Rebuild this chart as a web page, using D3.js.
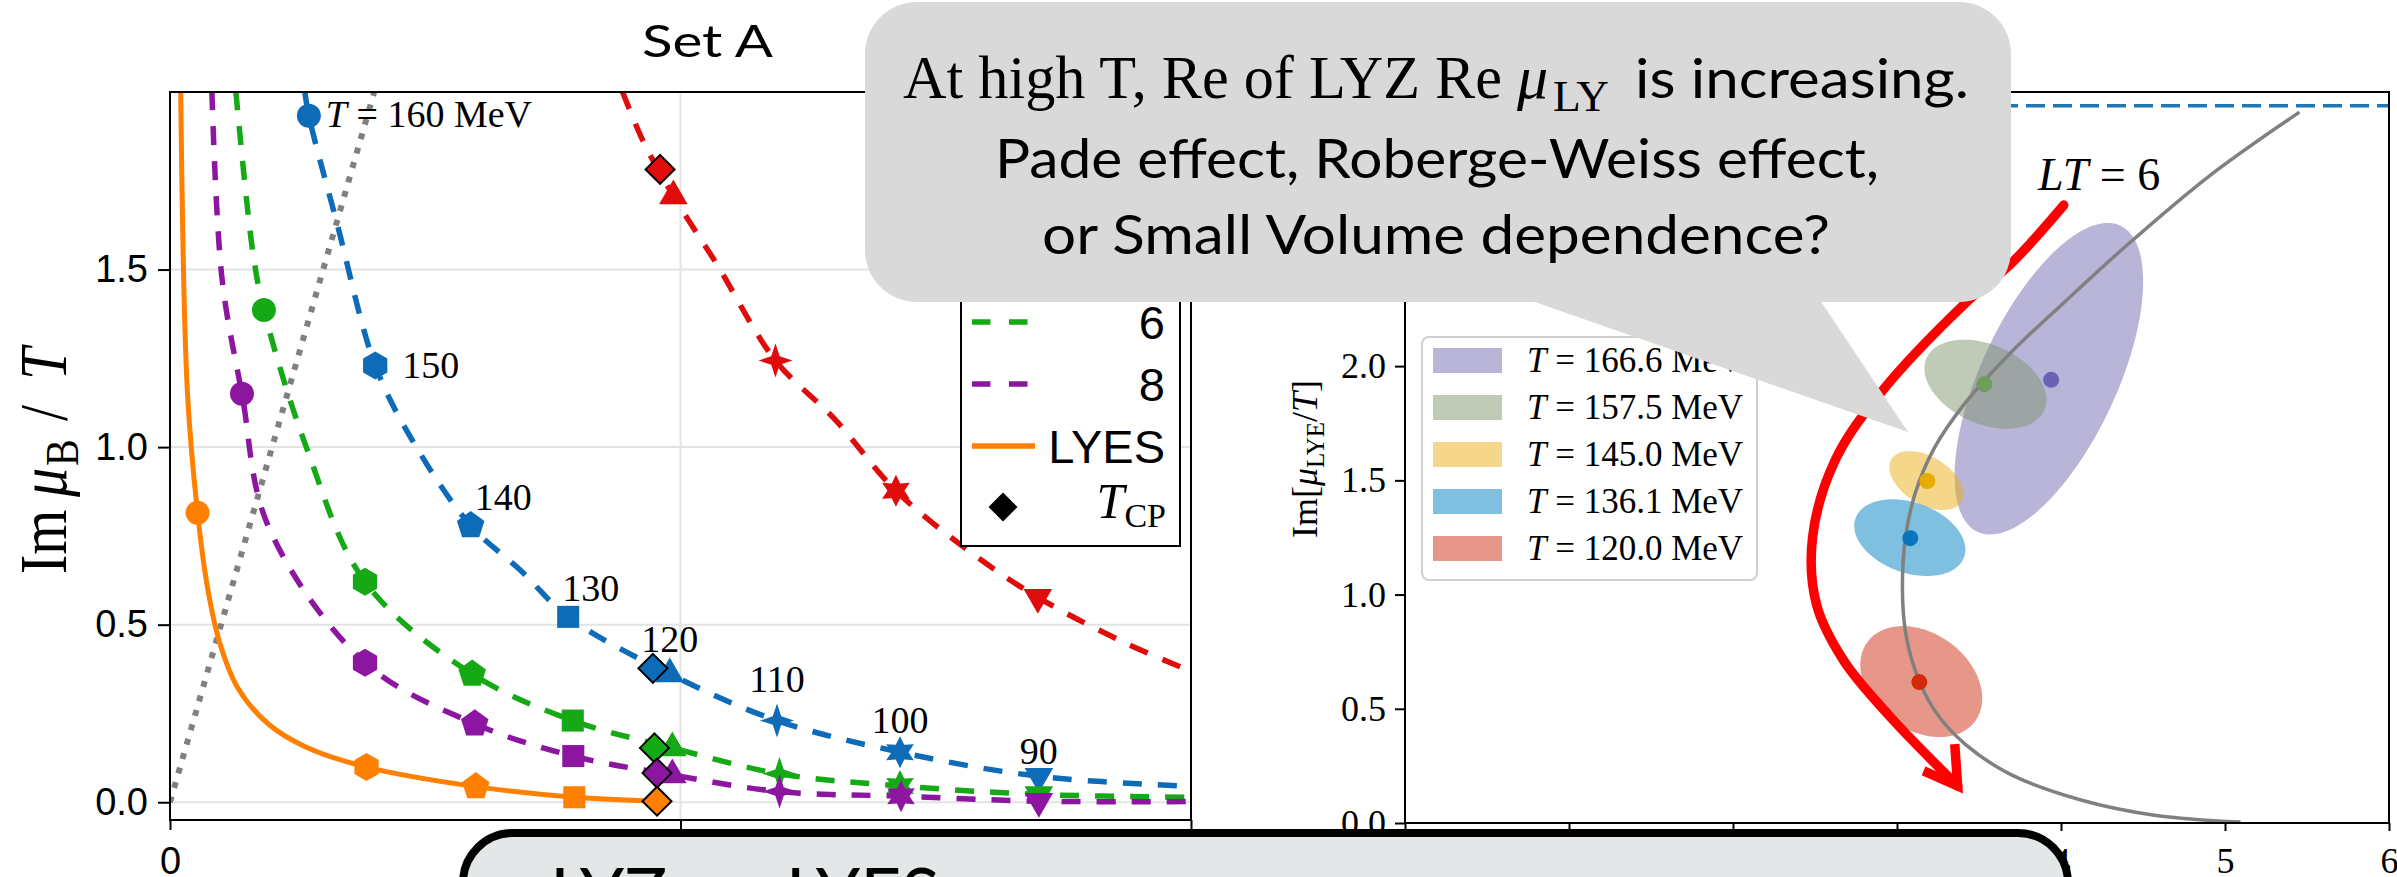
<!DOCTYPE html>
<html>
<head>
<meta charset="utf-8">
<script src="https://cdn.jsdelivr.net/npm/d3@7"></script>
<style>
  body { margin: 0; background: #fff; }
  svg { display: block; }
</style>
</head>
<body>
<svg id="slide" width="2397" height="877"></svg>
<script>
// ---------- left panel (Set A): zeros in the complex mu_B/T plane ----------
var temps = [160, 150, 140, 130, 120, 110, 100, 90];

// marker points [T, Re, Im]
var redPts = [[120, 0.986, 1.707], [110, 1.186, 1.244], [100, 1.422, 0.877], [90, 1.700, 0.577]];
var bluePts = [[160, 0.272, 1.933], [150, 0.402, 1.230], [140, 0.589, 0.779], [130, 0.780, 0.522],
               [120, 0.979, 0.361], [110, 1.189, 0.230], [100, 1.430, 0.141], [90, 1.702, 0.073]];
var greenPts = [[160, 0.184, 1.386], [150, 0.382, 0.621], [140, 0.592, 0.361], [130, 0.789, 0.230],
                [120, 0.984, 0.153], [110, 1.194, 0.080], [100, 1.430, 0.046], [90, 1.702, 0.022]];
var purplePts = [[160, 0.141, 1.150], [150, 0.382, 0.393], [140, 0.597, 0.221], [130, 0.790, 0.130],
                 [120, 0.984, 0.077], [110, 1.194, 0.030], [100, 1.432, 0.017], [90, 1.702, 0.003]];
var lyesPts = [[160, 0.054, 0.815], [150, 0.385, 0.099], [140, 0.599, 0.044], [130, 0.792, 0.014]];

// curves traced through the figure
var redLine = [[0.886, 2.002], [0.928, 1.858], [0.986, 1.707], [1.069, 1.520], [1.186, 1.244], [1.302, 1.079],
               [1.422, 0.877], [1.572, 0.700], [1.700, 0.577], [1.872, 0.448], [2.0, 0.369]];
var blueLine = [[0.264, 2.002], [0.272, 1.933], [0.327, 1.631], [0.402, 1.230], [0.476, 1.016], [0.589, 0.779],
                [0.686, 0.654], [0.780, 0.522], [0.979, 0.361], [1.189, 0.230], [1.430, 0.141], [1.702, 0.073], [2.0, 0.045]];
var greenLine = [[0.129, 2.002], [0.162, 1.552], [0.184, 1.386], [0.267, 1.000], [0.382, 0.621], [0.592, 0.361],
                 [0.789, 0.230], [0.984, 0.153], [1.194, 0.080], [1.430, 0.046], [1.702, 0.022], [2.0, 0.014]];
var purpleLine = [[0.082, 2.002], [0.102, 1.473], [0.141, 1.150], [0.192, 0.779], [0.382, 0.393], [0.597, 0.221],
                  [0.790, 0.130], [0.984, 0.077], [1.194, 0.030], [1.432, 0.017], [1.702, 0.003], [2.0, 0.002]];
var lyesLine = [[0.021, 2.002], [0.034, 1.158], [0.054, 0.815], [0.074, 0.600], [0.098, 0.446], [0.132, 0.324],
                [0.192, 0.221], [0.267, 0.155], [0.385, 0.099], [0.599, 0.044], [0.792, 0.014], [0.954, 0.003]];
var boundLine = [[0, 0], [0.41, 2.05]];

// critical points T_CP per series (red, blue, green, purple, LYES)
var cpRe = [0.960, 0.946, 0.949, 0.954, 0.954];
var cpIm = [1.782, 0.377, 0.153, 0.082, 0.003];

var leftYTicks = [0, 0.5, 1.0, 1.5];
var leftXTicks = [0, 1, 2];

// ---------- right panel: LYE fits ----------
var lyeTemps = ['166.6', '157.5', '145.0', '136.1', '120.0'];
var lyeRe = [3.94, 3.533, 3.185, 3.081, 3.136];
var lyeIm = [1.94, 1.921, 1.497, 1.247, 0.617];
var ellRe = [3.926, 3.539, 3.179, 3.078, 3.148];
var ellIm = [1.945, 1.921, 1.499, 1.249, 0.619];
var ellSigRe = [0.575, 0.372, 0.226, 0.339, 0.372];
var ellSigIm = [0.682, 0.195, 0.129, 0.168, 0.243];
var ellRho = [0.624, -0.35, -0.45, -0.31, -0.30];

var lt6Re = [5.454, 4.900, 4.395, 4.021, 3.695, 3.415, 3.229, 3.113, 3.052, 3.033, 3.052, 3.113, 3.229,
             3.415, 3.695, 4.116, 4.581, 5.095];
var lt6Im = [3.112, 2.830, 2.525, 2.280, 2.060, 1.838, 1.643, 1.448, 1.252, 1.032, 0.836, 0.665, 0.493,
             0.345, 0.212, 0.102, 0.033, 0.004];
var rwLevel = 3.14;

var arrowRe = [4.017, 3.700, 3.419, 2.906, 2.625, 2.485, 2.509, 2.674, 2.955, 3.370];
var arrowIm = [2.705, 2.452, 2.277, 1.888, 1.591, 1.250, 0.957, 0.712, 0.468, 0.162];
var arrowHeadRe = [3.162, 3.370, 3.352];
var arrowHeadIm = [0.228, 0.162, 0.345];

var rightYTicks = [0, 0.5, 1.0, 1.5, 2.0, 2.5, 3.0];
var rightXTicks = [0, 1, 2, 3, 4, 5, 6];

// ---------- styles ----------
var seriesColor = ['#e00b0b', '#0e6bb8', '#16a916', '#8c16a0', '#ff7f00'];
var lyeFill = ['#716bb1', '#7f956f', '#e9af15', '#007fbf', '#cf2d15'];
var lyeDot = ['#6a62b2', '#6f9e5b', '#e8ab00', '#0a74bc', '#d42a0c'];
var markerKinds = ['circle', 'hex', 'pent', 'square', 'triUp', 'star4', 'star6', 'triDown'];
var serif = '"Liberation Serif", "DejaVu Serif", serif';
var sans = '"Liberation Sans", Arial, sans-serif';
var slideFont = 'Lato, "Open Sans", sans-serif';

var svg = d3.select('#slide');

function polyPath(n, r, rot) {
  var pts = d3.range(n).map(function(i) {
    var a = rot + i * 2 * Math.PI / n;
    return [r * Math.cos(a), r * Math.sin(a)];
  });
  return 'M' + pts.join('L') + 'Z';
}
function starPath(n, ro, ri, rot) {
  var pts = d3.range(2 * n).map(function(i) {
    var a = rot + i * Math.PI / n, r = i % 2 ? ri : ro;
    return [r * Math.cos(a), r * Math.sin(a)];
  });
  return 'M' + pts.join('L') + 'Z';
}
var up = -Math.PI / 2;
var markerPath = {
  circle: 'M12,0A12,12 0 1 1 -12,0A12,12 0 1 1 12,0Z',
  hex: polyPath(6, 14, up),
  pent: polyPath(5, 14.5, up),
  square: polyPath(4, 15.6, Math.PI / 4),
  triUp: polyPath(3, 16.5, up),
  star4: starPath(4, 17, 6, up),
  star6: starPath(6, 16, 8.5, up),
  triDown: polyPath(3, 16.5, Math.PI / 2),
  diamond: polyPath(4, 14.5, up)
};

function styleAxis(g, family, size) {
  g.select('.domain').remove();
  g.selectAll('.tick line').attr('stroke', '#000').attr('stroke-width', 2);
  g.selectAll('.tick text').attr('font-family', family).attr('font-size', size).attr('fill', '#000');
}

// ================= left panel =================
var xL = d3.scaleLinear().domain([0, 2]).range([170, 1191]);
var yL = d3.scaleLinear().domain([-0.05, 2.0]).range([820, 92]);

var left = svg.append('g');
left.append('clipPath').attr('id', 'clipL').append('rect')
  .attr('x', 170).attr('y', 92).attr('width', 1021).attr('height', 728);

left.append('g').selectAll('line').data(leftYTicks).enter().append('line')
  .attr('x1', 170).attr('x2', 1191)
  .attr('y1', function(d) { return yL(d); }).attr('y2', function(d) { return yL(d); })
  .attr('stroke', '#e3e3e3').attr('stroke-width', 2);
left.append('line').attr('x1', xL(1)).attr('x2', xL(1)).attr('y1', 92).attr('y2', 820)
  .attr('stroke', '#e3e3e3').attr('stroke-width', 2);

var plotL = left.append('g').attr('clip-path', 'url(#clipL)');
var lineL = d3.line().x(function(d) { return xL(d[0]); }).y(function(d) { return yL(d[1]); })
  .curve(d3.curveCatmullRom.alpha(0.5));

plotL.append('path').datum(boundLine)
  .attr('d', d3.line().x(function(d) { return xL(d[0]); }).y(function(d) { return yL(d[1]); }))
  .attr('fill', 'none').attr('stroke', '#808080').attr('stroke-width', 6).attr('stroke-dasharray', '6,9');

var seriesPts = [redPts, bluePts, greenPts, purplePts, lyesPts];
var seriesLines = [redLine, blueLine, greenLine, purpleLine, lyesLine];

seriesLines.forEach(function(ln, s) {
  plotL.append('path').datum(ln).attr('d', lineL)
    .attr('fill', 'none').attr('stroke', seriesColor[s])
    .attr('stroke-width', s === 4 ? 5 : 5.5)
    .attr('stroke-dasharray', s === 4 ? null : '19,16');
  plotL.append('g').selectAll('path').data(seriesPts[s]).enter().append('path')
    .attr('d', function(d) { return markerPath[markerKinds[temps.indexOf(d[0])]]; })
    .attr('transform', function(d) { return 'translate(' + xL(d[1]) + ',' + yL(d[2]) + ')'; })
    .attr('fill', seriesColor[s]);
});

plotL.append('g').selectAll('path').data(cpRe).enter().append('path')
  .attr('d', markerPath.diamond)
  .attr('transform', function(d, i) { return 'translate(' + xL(d) + ',' + yL(cpIm[i]) + ')'; })
  .attr('fill', function(d, i) { return seriesColor[i]; })
  .attr('stroke', '#000').attr('stroke-width', 2);

// temperature labels on the blue series
var labelStyle = {
  160: [17, 11, 'start'], 150: [27, 13, 'start'], 140: [4, -16, 'start'], 130: [-6, -16, 'start'],
  120: [0, -22, 'middle'], 110: [0, -29, 'middle'], 100: [0, -19, 'middle'], 90: [0, -12, 'middle']
};
bluePts.forEach(function(d) {
  var st = labelStyle[d[0]];
  var t = plotL.append('text')
    .attr('x', xL(d[1]) + st[0]).attr('y', yL(d[2]) + st[1])
    .attr('text-anchor', st[2]).attr('font-family', serif).attr('font-size', 38).attr('fill', '#000');
  if (d[0] === 160) {
    t.append('tspan').attr('font-style', 'italic').text('T');
    t.append('tspan').text(' = 160 MeV');
  } else {
    t.text(d[0]);
  }
});

left.append('rect').attr('x', 170).attr('y', 92).attr('width', 1021).attr('height', 728)
  .attr('fill', 'none').attr('stroke', '#000').attr('stroke-width', 2);

var yAxisL = left.append('g').attr('transform', 'translate(170,0)')
  .call(d3.axisLeft(yL).tickValues(leftYTicks).tickFormat(d3.format('.1f')).tickSize(12).tickPadding(10));
styleAxis(yAxisL, sans, 38);
var xAxisL = left.append('g').attr('transform', 'translate(0,820)')
  .call(d3.axisBottom(xL).tickValues(leftXTicks).tickFormat(d3.format('d')).tickSize(10).tickPadding(17));
styleAxis(xAxisL, sans, 38);

// y label: pieces placed along the rotated axis, glyphs stretched like the source figure
var ylab = left.append('text').attr('transform', 'translate(66,452) scale(1.15,1) rotate(-90)')
  .attr('font-family', serif).attr('font-size', 58);
ylab.append('tspan').attr('x', -122).text('Im');
ylab.append('tspan').attr('x', -45).attr('font-style', 'italic').text('μ');
ylab.append('tspan').attr('x', -14).attr('font-size', 40).attr('dy', 10).text('B');
ylab.append('tspan').attr('x', 31).attr('dy', -10).text('/');
ylab.append('tspan').attr('x', 72).attr('font-style', 'italic').text('T');

left.append('text').attr('x', 642).attr('y', 57).attr('font-family', slideFont).attr('font-size', 45)
  .attr('textLength', 131).attr('lengthAdjust', 'spacingAndGlyphs').text('Set A');

// legend (upper part is hidden under the callout)
var legL = left.append('g');
legL.append('rect').attr('x', 961).attr('y', 170).attr('width', 219).attr('height', 376)
  .attr('fill', '#fff').attr('stroke', '#000').attr('stroke-width', 2);
var legRows = [
  { s: 2, y: 322, label: '6' },
  { s: 3, y: 384, label: '8' },
  { s: 4, y: 446, label: 'LYES' }
];
legRows.forEach(function(r) {
  legL.append('line').attr('x1', 972).attr('x2', r.s === 4 ? 1035 : 1028).attr('y1', r.y).attr('y2', r.y)
    .attr('stroke', seriesColor[r.s]).attr('stroke-width', 5.5)
    .attr('stroke-dasharray', r.s === 4 ? null : '18.5,18.5');
  legL.append('text').attr('x', 1165).attr('y', r.y + 17).attr('text-anchor', 'end')
    .attr('font-family', sans).attr('font-size', 47).text(r.label);
});
legL.append('path').attr('d', markerPath.diamond).attr('transform', 'translate(1003,507)').attr('fill', '#000');
var tcp = legL.append('text').attr('x', 1166).attr('y', 518).attr('text-anchor', 'end')
  .attr('font-family', serif).attr('font-size', 50);
tcp.append('tspan').attr('font-style', 'italic').text('T');
tcp.append('tspan').attr('font-size', 34).attr('dy', 9).text('CP');

// ================= right panel =================
var xR = d3.scaleLinear().domain([0, 6]).range([1405, 2389]);
var yR = d3.scaleLinear().domain([0, 3.2]).range([823, 92]);
var right = svg.append('g');
right.append('clipPath').attr('id', 'clipR').append('rect')
  .attr('x', 1405).attr('y', 92).attr('width', 984).attr('height', 731);
var plotR = right.append('g').attr('clip-path', 'url(#clipR)');

plotR.append('line').attr('x1', xR(0)).attr('x2', xR(6)).attr('y1', yR(rwLevel)).attr('y2', yR(rwLevel))
  .attr('stroke', '#1f77b4').attr('stroke-width', 3.5).attr('stroke-dasharray', '19,8');

var ellLine = d3.line().x(function(d) { return xR(d[0]); }).y(function(d) { return yR(d[1]); })
  .curve(d3.curveLinearClosed);
ellRe.forEach(function(cx, i) {
  var pts = d3.range(0, 2 * Math.PI, Math.PI / 60).map(function(t) {
    var u = Math.cos(t), v = Math.sin(t);
    return [cx + ellSigRe[i] * u,
            ellIm[i] + ellSigIm[i] * (ellRho[i] * u + Math.sqrt(1 - ellRho[i] * ellRho[i]) * v)];
  });
  plotR.append('path').datum(pts).attr('d', ellLine).attr('fill', lyeFill[i]).attr('fill-opacity', 0.5);
});

var lt6 = lt6Re.map(function(d, i) { return [d, lt6Im[i]]; });
plotR.append('path').datum(lt6)
  .attr('d', d3.line().x(function(d) { return xR(d[0]); }).y(function(d) { return yR(d[1]); })
    .curve(d3.curveCatmullRom.alpha(0.5)))
  .attr('fill', 'none').attr('stroke', '#808080').attr('stroke-width', 3.5);

plotR.append('g').selectAll('circle').data(lyeRe).enter().append('circle')
  .attr('cx', function(d) { return xR(d); }).attr('cy', function(d, i) { return yR(lyeIm[i]); })
  .attr('r', 8).attr('fill', function(d, i) { return lyeDot[i]; });

right.append('rect').attr('x', 1405).attr('y', 92).attr('width', 984).attr('height', 731)
  .attr('fill', 'none').attr('stroke', '#000').attr('stroke-width', 2);
var yAxisR = right.append('g').attr('transform', 'translate(1405,0)')
  .call(d3.axisLeft(yR).tickValues(rightYTicks).tickFormat(d3.format('.1f')).tickSize(10).tickPadding(9));
styleAxis(yAxisR, serif, 36);
var xAxisR = right.append('g').attr('transform', 'translate(0,823)')
  .call(d3.axisBottom(xR).tickValues(rightXTicks).tickFormat(d3.format('d')).tickSize(8).tickPadding(16));
styleAxis(xAxisR, serif, 36);

var ylabR = right.append('text').attr('transform', 'translate(1317,459) rotate(-90)')
  .attr('text-anchor', 'middle').attr('font-family', serif).attr('font-size', 36);
ylabR.append('tspan').text('Im[');
ylabR.append('tspan').attr('font-style', 'italic').text('μ');
ylabR.append('tspan').attr('font-size', 25).attr('dy', 7).text('LYE');
ylabR.append('tspan').attr('dy', -7).text('/');
ylabR.append('tspan').attr('font-style', 'italic').text('T');
ylabR.append('tspan').text(']');

// legend
var legR = right.append('g');
legR.append('rect').attr('x', 1422).attr('y', 337).attr('width', 335).attr('height', 243).attr('rx', 7)
  .attr('fill', '#fff').attr('fill-opacity', 0.85).attr('stroke', '#d0d0d0').attr('stroke-width', 2);
lyeTemps.forEach(function(t, i) {
  var y0 = 348 + i * 47;
  legR.append('rect').attr('x', 1433).attr('y', y0).attr('width', 69).attr('height', 25)
    .attr('fill', lyeFill[i]).attr('fill-opacity', 0.5);
  var tx = legR.append('text').attr('x', 1527).attr('y', y0 + 24).attr('font-family', serif).attr('font-size', 35);
  tx.append('tspan').attr('font-style', 'italic').text('T');
  tx.append('tspan').text(' = ' + t + ' MeV');
});

// annotation: arrow and LT = 6
var arrow = arrowRe.map(function(d, i) { return [d, arrowIm[i]]; });
right.append('path').datum(arrow)
  .attr('d', d3.line().x(function(d) { return xR(d[0]); }).y(function(d) { return yR(d[1]); })
    .curve(d3.curveCatmullRom.alpha(0.5)))
  .attr('fill', 'none').attr('stroke', '#ff0000').attr('stroke-width', 9.5).attr('stroke-linecap', 'round');
var head = arrowHeadRe.map(function(d, i) { return [d, arrowHeadIm[i]]; });
right.append('path').datum(head)
  .attr('d', d3.line().x(function(d) { return xR(d[0]); }).y(function(d) { return yR(d[1]); }))
  .attr('fill', 'none').attr('stroke', '#ff0000').attr('stroke-width', 9.5)
  .attr('stroke-linejoin', 'miter').attr('stroke-linecap', 'butt');

var ltText = right.append('text').attr('x', 2038).attr('y', 190).attr('font-family', serif).attr('font-size', 46);
ltText.append('tspan').attr('font-style', 'italic').text('LT');
ltText.append('tspan').text(' = 6');

// ================= callouts =================
var callout = svg.append('g');
callout.append('rect').attr('x', 865).attr('y', 2).attr('width', 1146).attr('height', 300).attr('rx', 52)
  .attr('fill', '#d9d9d9');
callout.append('path').attr('d', 'M1529,300L1820,300L1908,432Z').attr('fill', '#d9d9d9');

callout.append('text').attr('x', 903).attr('y', 98).attr('font-family', serif).attr('font-size', 62)
  .attr('textLength', 599).attr('lengthAdjust', 'spacingAndGlyphs').text('At high T, Re of LYZ Re');
callout.append('text').attr('x', 1517).attr('y', 98).attr('font-family', serif).attr('font-size', 62)
  .attr('font-style', 'italic').text('μ');
callout.append('text').attr('x', 1553).attr('y', 111).attr('font-family', serif).attr('font-size', 44)
  .attr('textLength', 56).attr('lengthAdjust', 'spacingAndGlyphs').text('LY');
callout.append('text').attr('x', 1635).attr('y', 98).attr('font-family', slideFont).attr('font-size', 54)
  .attr('textLength', 334).attr('lengthAdjust', 'spacingAndGlyphs').text('is increasing.');
callout.append('text').attr('x', 995).attr('y', 178).attr('font-family', slideFont).attr('font-size', 54)
  .attr('textLength', 884).attr('lengthAdjust', 'spacingAndGlyphs').text('Pade effect, Roberge-Weiss effect,');
callout.append('text').attr('x', 1042).attr('y', 254).attr('font-family', slideFont).attr('font-size', 54)
  .attr('textLength', 788).attr('lengthAdjust', 'spacingAndGlyphs').text('or Small Volume dependence?');

var bottom = svg.append('g');
bottom.append('rect').attr('x', 463).attr('y', 833).attr('width', 1605).attr('height', 200).attr('rx', 50)
  .attr('fill', '#e3e7e7').attr('stroke', '#000').attr('stroke-width', 8);
bottom.append('text').attr('x', 550).attr('y', 921).attr('font-family', slideFont).attr('font-size', 74)
  .attr('textLength', 390).attr('lengthAdjust', 'spacingAndGlyphs').text('LYZ vs. LYES');
</script>
</body>
</html>
